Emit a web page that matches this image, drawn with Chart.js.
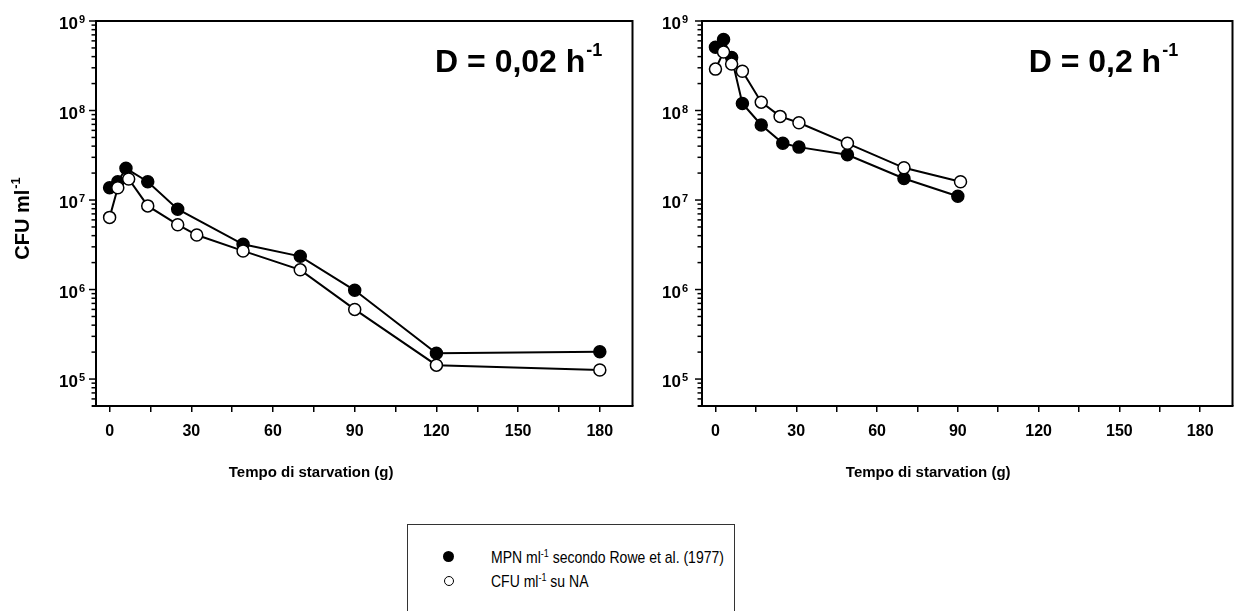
<!DOCTYPE html>
<html>
<head>
<meta charset="utf-8">
<script src="https://cdn.jsdelivr.net/npm/chart.js@4.4.0/dist/chart.umd.min.js"></script>
<style>
  html, body { margin: 0; padding: 0; background: #fff; overflow: hidden; width: 1235px; height: 611px; }
  #left { position: absolute; left: 0; top: 0; }
  #right { position: absolute; left: 640px; top: 0; }
  .legend { position: absolute; left: 407px; top: 524px; width: 326px; height: 120px;
            border: 1px solid #333; font-family: 'Liberation Sans', Arial, sans-serif; font-size: 14px; color: #000; }
  .dot { position: absolute; width: 11px; height: 11px; border-radius: 50%; box-sizing: border-box; }
  .dot.filled { background: #000; }
  .dot.open { background: #fff; border: 1px solid #000; width: 10px; height: 10px; }
  .txt { position: absolute; left: 83px; line-height: 20px; white-space: nowrap; transform: scaleY(1.2); transform-origin: left center; }
  .txt sup { font-size: 9px; line-height: 0; vertical-align: 5px; }
</style>
</head>
<body>
<canvas id="left" width="640" height="500"></canvas>
<canvas id="right" width="600" height="500"></canvas>
<div class="legend">
  <span class="dot filled" style="left:35px; top:26px"></span>
  <span class="txt" style="top:22px">MPN ml<sup>-1</sup> secondo Rowe et al. (1977)</span>
  <span class="dot open" style="left:36px; top:51px"></span>
  <span class="txt" style="top:46px">CFU ml<sup>-1</sup> su NA</span>
</div>
<script>
// D = 0,02 h-1
const leftMpnX = [0, 3, 6, 14, 25, 49, 70, 90, 120, 180];
const leftMpnY = [1.37e7, 1.6e7, 2.26e7, 1.6e7, 7.9e6, 3.2e6, 2.35e6, 9.8e5, 1.94e5, 2.02e5];
const leftCfuX = [0, 3, 7, 14, 25, 32, 49, 70, 90, 120, 180];
const leftCfuY = [6.4e6, 1.37e7, 1.72e7, 8.6e6, 5.3e6, 4.06e6, 2.7e6, 1.66e6, 6.0e5, 1.43e5, 1.26e5];

// D = 0,2 h-1
const rightMpnX = [0, 3, 6, 10, 17, 25, 31, 49, 70, 90];
const rightMpnY = [5.1e8, 6.2e8, 3.9e8, 1.2e8, 6.9e7, 4.3e7, 3.9e7, 3.2e7, 1.74e7, 1.1e7];
const rightCfuX = [0, 3, 6, 10, 17, 24, 31, 49, 70, 91];
const rightCfuY = [2.9e8, 4.5e8, 3.3e8, 2.75e8, 1.24e8, 8.6e7, 7.3e7, 4.3e7, 2.29e7, 1.6e7];

const xTicks = [0, 15, 30, 45, 60, 75, 90, 105, 120, 135, 150, 165, 180];
const xLabelStep = 30;
const yExponents = [5, 6, 7, 8, 9];

const FONT = "'Liberation Sans', Arial, sans-serif";
Chart.defaults.font.family = FONT;
Chart.defaults.color = '#000';

// superscript text helper: base text + raised part
function supText(ctx, x, y, base, sup, size, supSize, rise, align) {
  ctx.font = 'bold ' + size + 'px ' + FONT;
  const w1 = ctx.measureText(base).width;
  ctx.font = 'bold ' + supSize + 'px ' + FONT;
  const w2 = ctx.measureText(sup).width;
  let x0 = x;
  if (align === 'center') x0 = x - (w1 + w2) / 2;
  if (align === 'right') x0 = x - w1;
  ctx.textAlign = 'left';
  ctx.textBaseline = 'alphabetic';
  ctx.font = 'bold ' + size + 'px ' + FONT;
  ctx.fillText(base, x0, y);
  ctx.font = 'bold ' + supSize + 'px ' + FONT;
  ctx.fillText(sup, x0 + w1 + 1, y - rise);
}

const decor = {
  id: 'decor',
  afterDraw(chart, args, o) {
    const ctx = chart.ctx, a = chart.chartArea;
    const xs = chart.scales.x, ys = chart.scales.y;
    ctx.save();
    ctx.fillStyle = '#000';
    ctx.strokeStyle = '#000';

    // top and right frame
    ctx.lineWidth = 2;
    ctx.beginPath();
    ctx.moveTo(a.left, a.top);
    ctx.lineTo(a.right, a.top);
    ctx.lineTo(a.right, a.bottom);
    ctx.stroke();
    // x axis runs a little past the y axis
    ctx.beginPath();
    ctx.moveTo(a.left - 4, a.bottom);
    ctx.lineTo(a.left, a.bottom);
    ctx.stroke();

    // log ticks, major and minor
    ctx.lineWidth = 1.5;
    for (let e = 4; e <= 9; e++) {
      for (let m = 1; m <= 9; m++) {
        const v = m * Math.pow(10, e);
        if (v < ys.min || v > ys.max) continue;
        const py = ys.getPixelForValue(v);
        const len = m === 1 ? 7 : 4.5;
        ctx.beginPath();
        ctx.moveTo(a.left - len, py);
        ctx.lineTo(a.left, py);
        ctx.stroke();
      }
    }

    // y tick labels 10^n
    yExponents.forEach(e => {
      const py = ys.getPixelForValue(Math.pow(10, e));
      supText(ctx, a.left - o.labelGap, py + 8, '10', String(e), 17, 11, 6, 'right');
    });

    // x title
    ctx.font = 'bold 15px ' + FONT;
    ctx.textAlign = 'center';
    ctx.textBaseline = 'middle';
    ctx.fillText('Tempo di starvation (g)', xs.getPixelForValue(o.titleAt), 473);

    // y title
    if (o.yTitle) {
      ctx.save();
      ctx.translate(22, 219);
      ctx.rotate(-Math.PI / 2);
      supText(ctx, 0, 7, 'CFU ml', '-1', 20, 13, 9, 'center');
      ctx.restore();
    }

    // annotation
    supText(ctx, xs.getPixelForValue(o.noteAt), a.top + 51, o.note, '-1', 32, 18, 16, 'left');
    ctx.restore();
  }
};

function makeChart(id, mpnX, mpnY, cfuX, cfuY, cfg) {
  return new Chart(document.getElementById(id), {
    type: 'line',
    data: {
      datasets: [
        {
          label: 'MPN',
          data: mpnX.map((x, i) => ({ x: x, y: mpnY[i] })),
          borderColor: '#000', borderWidth: 2,
          pointRadius: 6, pointBorderWidth: 1.5,
          pointBackgroundColor: '#000', pointBorderColor: '#000',
          order: 1
        },
        {
          label: 'CFU',
          data: cfuX.map((x, i) => ({ x: x, y: cfuY[i] })),
          borderColor: '#000', borderWidth: 2,
          pointRadius: 6, pointBorderWidth: 1.5,
          pointBackgroundColor: '#fff', pointBorderColor: '#000',
          order: 0
        }
      ]
    },
    options: {
      responsive: false,
      animation: false,
      events: [],
      layout: { padding: { top: 21, right: cfg.padRight, left: 0, bottom: 0 } },
      plugins: { legend: { display: false }, tooltip: { enabled: false }, decor: cfg },
      scales: {
        x: {
          type: 'linear', min: -5, max: 192,
          afterBuildTicks: s => { s.ticks = xTicks.map(v => ({ value: v })); },
          afterFit: s => { s.height = 94; },
          grid: { display: true, drawOnChartArea: false, drawTicks: true, tickLength: 6, color: '#000', lineWidth: 1.5 },
          border: { display: true, color: '#000', width: 2 },
          ticks: {
            autoSkip: false, maxRotation: 0, padding: 10,
            font: { size: 16, weight: 'bold' },
            callback: v => (v % xLabelStep === 0 ? String(v) : '')
          }
        },
        y: {
          type: 'logarithmic', min: 5e4, max: 1e9,
          afterFit: s => { s.width = cfg.yWidth; },
          grid: { display: false },
          border: { display: true, color: '#000', width: 2 },
          ticks: { display: false }
        }
      }
    },
    plugins: [decor]
  });
}

makeChart('left', leftMpnX, leftMpnY, leftCfuX, leftCfuY,
  { yWidth: 96, padRight: 6, labelGap: 18, titleAt: 74, yTitle: true, note: 'D = 0,02 h', noteAt: 119.5 });
makeChart('right', rightMpnX, rightMpnY, rightCfuX, rightCfuY,
  { yWidth: 62, padRight: 0, labelGap: 21, titleAt: 79, yTitle: false, note: 'D = 0,2 h', noteAt: 116.3 });
</script>
</body>
</html>
